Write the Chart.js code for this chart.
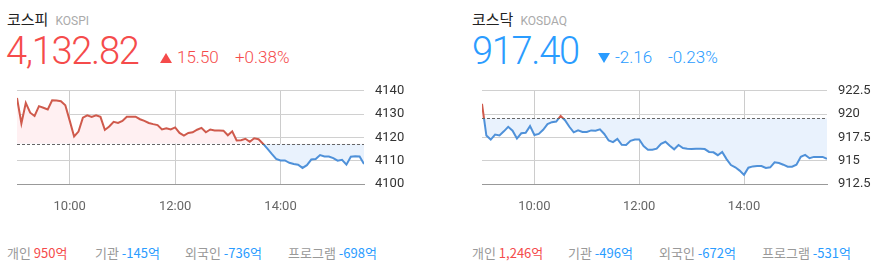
<!DOCTYPE html>
<html>
<head>
<meta charset="utf-8">
<script src="https://cdn.jsdelivr.net/npm/chart.js@4.4.0/dist/chart.umd.min.js"></script>
<style>
  body { margin: 0; background: #fff; font-family: Roboto, "Noto Sans CJK KR", sans-serif; }
  .panel { position: absolute; top: 0; height: 271px; }
  .name { position: absolute; left: 7px; top: 11px; font-size: 15px; line-height: 15px; color: #222; font-family: "Noto Sans CJK KR", sans-serif; white-space: nowrap; }
  .name small { font-family: Roboto, sans-serif; font-size: 12px; color: #aaa; margin-left: 7px; }
  .price { position: absolute; left: 6px; top: 32px; font-size: 38px; line-height: 38px; font-weight: 300; letter-spacing: -1.3px; }
  .chg { position: absolute; top: 49px; font-size: 17px; line-height: 17px; font-weight: 300; white-space: nowrap; }
  .tri-up, .tri-down { display: inline-block; width: 0; height: 0; margin-right: 5px; border-left: 6.5px solid transparent; border-right: 6.5px solid transparent; }
  .tri-up { border-bottom: 10px solid #f54b4b; }
  .tri-down { border-top: 10px solid #2a9cff; }
  .foot { position: absolute; top: 246px; font-size: 13px; line-height: 13px; color: #999; font-family: "Noto Sans CJK KR", sans-serif; white-space: nowrap; }
  .up { color: #f54b4b; }
  .down { color: #2a9cff; }
  .box { position: absolute; top: 72px; height: 153px; }
</style>
</head>
<body>
<div class="panel" style="left:0;width:440px">
  <div class="name">코스피<small>KOSPI</small></div>
  <div class="price up">4,132.82</div>
  <div class="chg up" style="left:160px"><span class="tri-up"></span>15.50</div>
  <div class="chg up" style="left:235px">+0.38%</div>
  <div class="box" style="left:0;width:440px"><canvas id="kospi"></canvas></div>
  <div class="foot" style="left:7px">개인 <span class="up">950억</span></div>
  <div class="foot" style="left:95px">기관 <span class="down">-145억</span></div>
  <div class="foot" style="left:185px">외국인 <span class="down">-736억</span></div>
  <div class="foot" style="left:288px">프로그램 <span class="down">-698억</span></div>
</div>
<div class="panel" style="left:460px;width:427px">
  <div class="name" style="left:12px">코스닥<small>KOSDAQ</small></div>
  <div class="price down" style="left:12px">917.40</div>
  <div class="chg down" style="left:138px"><span class="tri-down"></span>-2.16</div>
  <div class="chg down" style="left:208px">-0.23%</div>
  <div class="box" style="left:0;width:427px"><canvas id="kosdaq"></canvas></div>
  <div class="foot" style="left:12px">개인 <span class="up">1,246억</span></div>
  <div class="foot" style="left:108px">기관 <span class="down">-496억</span></div>
  <div class="foot" style="left:199px">외국인 <span class="down">-672억</span></div>
  <div class="foot" style="left:302px">프로그램 <span class="down">-531억</span></div>
</div>
<script>
// 5-minute points from 09:00
const kospiValues = [
  4136.9, 4126.0, 4134.8, 4130.6, 4129.2, 4133.4, 4132.7, 4132.0, 4135.9, 4135.8,
  4135.5, 4133.8, 4127.2, 4120.4, 4122.5, 4128.5, 4129.5, 4128.8, 4129.5, 4128.8,
  4123.2, 4124.7, 4126.7, 4126.2, 4127.1, 4128.9, 4128.9, 4128.9, 4127.8, 4127.1,
  4126.2, 4125.7, 4125.3, 4123.4, 4123.9, 4123.4, 4124.3, 4121.9, 4120.8, 4121.9,
  4122.2, 4123.3, 4124.1, 4122.2, 4123.4, 4123.0, 4123.0, 4122.9, 4120.9, 4122.6,
  4118.7, 4118.8, 4119.4, 4118.1, 4119.6, 4119.2, 4117.3, 4115.2, 4112.9, 4110.8,
  4110.1, 4110.1, 4109.1, 4108.6, 4108.3, 4106.9, 4108.1, 4110.5, 4110.7, 4112.4,
  4111.8, 4111.8, 4111.1, 4110.0, 4110.4, 4108.3, 4111.7, 4111.9, 4111.8, 4108.6
];
const kosdaqValues = [
  921.1, 917.7, 917.27, 917.8, 917.7, 918.15, 918.64, 918.22, 917.38, 917.94,
  918.0, 918.71, 917.76, 917.87, 918.32, 918.92, 919.13, 919.2, 919.8, 919.34,
  918.64, 918.04, 918.25, 918.08, 918.08, 918.25, 918.22, 918.36, 917.87, 917.17,
  916.99, 917.34, 916.71, 916.68, 917.13, 917.27, 917.27, 916.57, 916.18, 916.18,
  916.29, 916.82, 917.03, 916.61, 916.22, 916.68, 916.36, 916.29, 916.25, 916.29,
  916.29, 916.25, 915.94, 915.9, 915.59, 915.94, 915.17, 914.53, 914.29, 913.94,
  913.48, 914.25, 914.39, 914.43, 914.43, 914.22, 914.29, 914.82, 914.75, 914.57,
  914.36, 914.36, 914.57, 915.41, 915.62, 915.27, 915.41, 915.41, 915.41, 915.2
];
const kospiPrevClose = 4117.32;
const kosdaqPrevClose = 919.56;
const kospiTicks = [4100, 4110, 4120, 4130, 4140];
const kosdaqTicks = [912.5, 915, 917.5, 920, 922.5];
const timeTicks = [60, 180, 300];           // minutes after 09:00
const timeLabels = ['10:00', '12:00', '14:00'];
const stepMinutes = 5;

const RED = '#cf5a4c', BLUE = '#4f91d9';

function splitColor(base) {
  return (ctx) => {
    const chart = ctx.chart;
    const area = chart.chartArea;
    if (!area) return RED;
    const y = chart.scales.y.getPixelForValue(base);
    let stop = (y - area.top) / (area.bottom - area.top);
    stop = Math.min(1, Math.max(0, stop));
    const g = chart.ctx.createLinearGradient(0, area.top, 0, area.bottom);
    g.addColorStop(0, RED);
    g.addColorStop(stop, RED);
    g.addColorStop(stop, BLUE);
    g.addColorStop(1, BLUE);
    return g;
  };
}

const baseLine = {
  id: 'baseLine',
  afterDatasetsDraw(chart, args, opts) {
    const { ctx, chartArea } = chart;
    const y = Math.round(chart.scales.y.getPixelForValue(opts.value)) + 0.5;
    ctx.save();
    ctx.strokeStyle = '#666';
    ctx.lineWidth = 1;
    ctx.setLineDash([3, 2]);
    ctx.beginPath();
    ctx.moveTo(chartArea.left, y);
    ctx.lineTo(chartArea.right, y);
    ctx.stroke();
    ctx.restore();
  }
};

function makeChart(id, values, prev, ticks, padLeft, yWidth) {
  new Chart(document.getElementById(id), {
    type: 'line',
    data: {
      datasets: [{
        data: values.map((v, i) => ({ x: i * stepMinutes, y: v })),
        borderColor: splitColor(prev),
        borderWidth: 2,
        pointRadius: 0,
        tension: 0,
        fill: { target: { value: prev }, above: '#fff0f2', below: '#e9f2fd' }
      }]
    },
    options: {
      responsive: true,
      maintainAspectRatio: false,
      animation: false,
      layout: { padding: { left: padLeft, top: 1, right: 0, bottom: 0 } },
      plugins: {
        legend: { display: false },
        tooltip: { enabled: false },
        baseLine: { value: prev }
      },
      scales: {
        x: {
          type: 'linear',
          min: 0,
          max: (values.length - 1) * stepMinutes,
          afterBuildTicks: (s) => { s.ticks = timeTicks.map(v => ({ value: v })); },
          afterFit: (s) => { s.height = 41; },
          grid: { color: '#cccccc', drawTicks: false },
          border: { display: true, color: '#999999' },
          ticks: {
            padding: 15,
            color: '#666',
            font: { family: 'Roboto', size: 13 },
            callback: (v) => timeLabels[timeTicks.indexOf(v)]
          }
        },
        y: {
          position: 'right',
          min: ticks[0],
          max: ticks[ticks.length - 1],
          afterBuildTicks: (s) => { s.ticks = ticks.map(v => ({ value: v })); },
          afterFit: (s) => { s.width = yWidth; },
          grid: { color: '#d0d0d0', drawTicks: false },
          border: { display: false },
          ticks: {
            padding: 11,
            color: '#333',
            font: { family: 'Roboto', size: 13 },
            callback: (v) => String(v)
          }
        }
      }
    },
    plugins: [baseLine]
  });
}

makeChart('kospi', kospiValues, kospiPrevClose, kospiTicks, 17, 76);
makeChart('kosdaq', kosdaqValues, kosdaqPrevClose, kosdaqTicks, 22, 60);
</script>
</body>
</html>
